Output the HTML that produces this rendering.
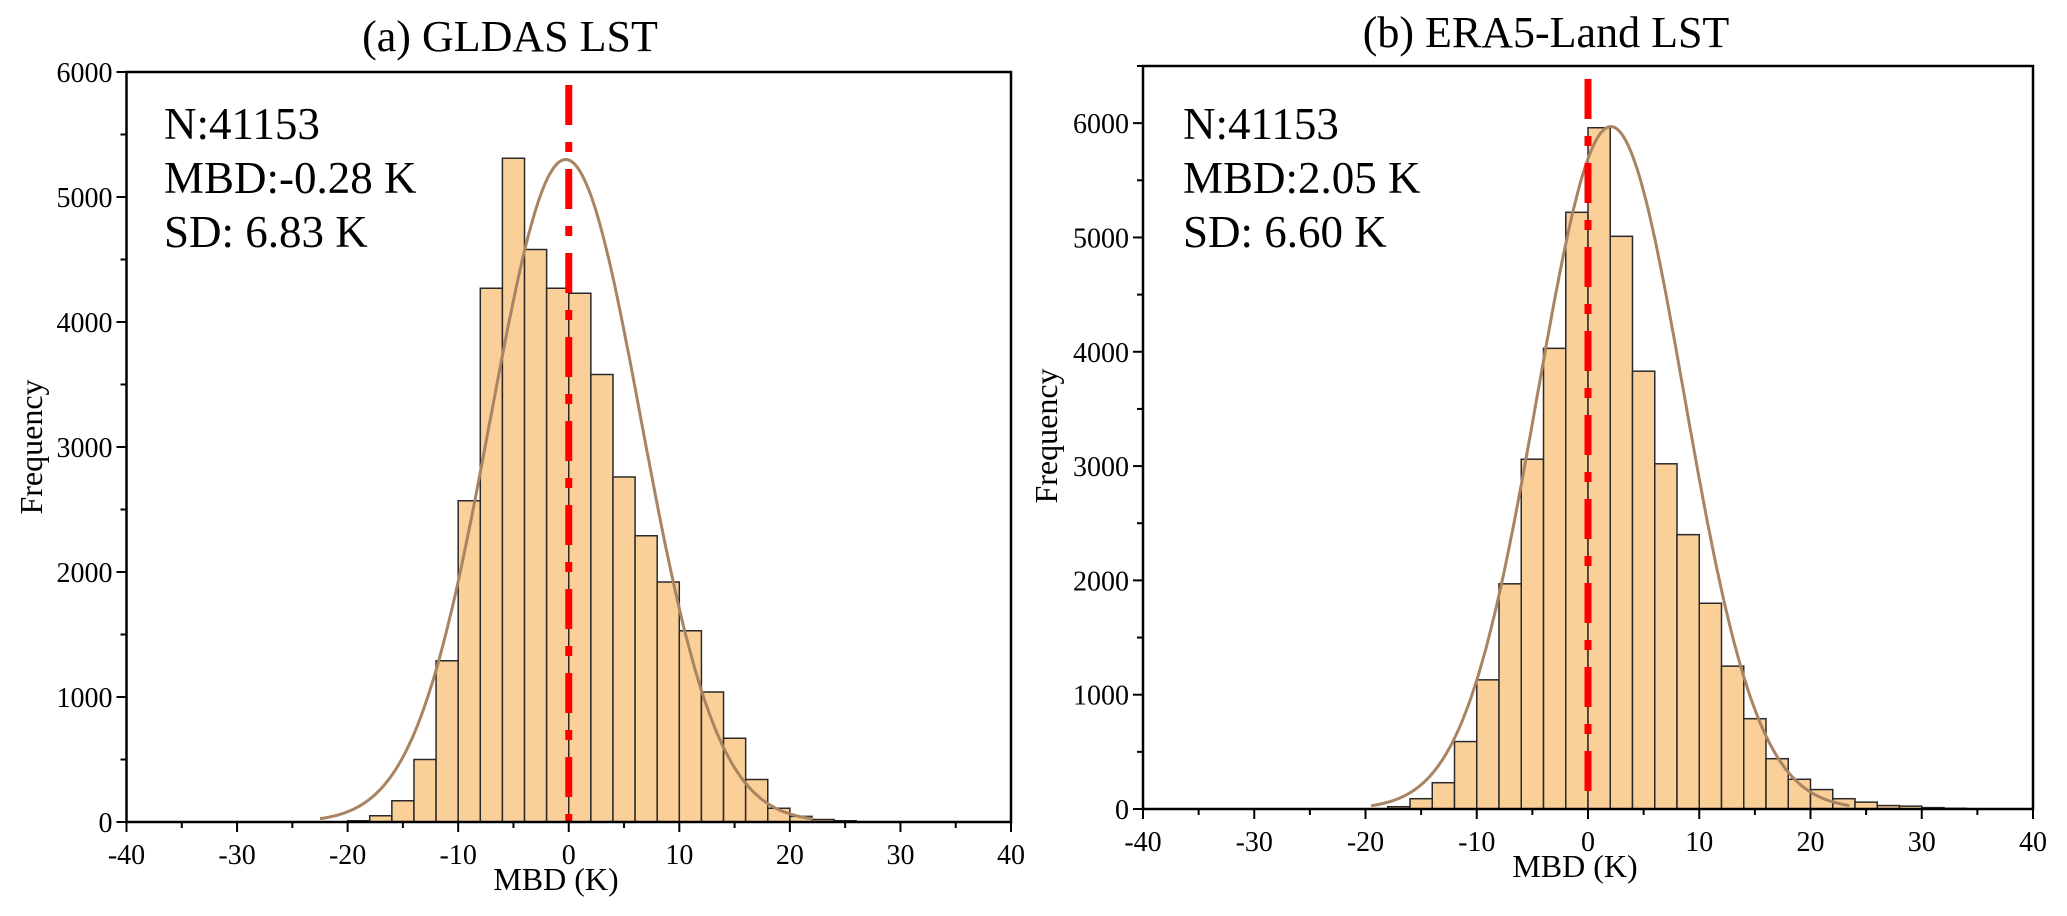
<!DOCTYPE html>
<html><head><meta charset="utf-8"><style>
body{margin:0;background:#fff}
svg text{font-family:"Liberation Serif","Times New Roman",serif;fill:#000}
</style></head><body>
<svg id="chart" width="2067" height="911" viewBox="0 0 2067 911" xmlns="http://www.w3.org/2000/svg"></svg>
<script>
const binEdgesA = [-20,-18,-16,-14,-12,-10,-8,-6,-4,-2,0,2,4,6,8,10,12,14,16,18,20,22,24];
const countsA = [10,50,170,500,1290,2570,4270,5310,4580,4270,4230,3580,2760,2290,1920,1530,1040,670,340,110,45,20,10];
const binEdgesB = [-18,-16,-14,-12,-10,-8,-6,-4,-2,0,2,4,6,8,10,12,14,16,18,20,22,24,26,28,30,32];
const countsB = [20,90,230,590,1130,1970,3060,4030,5220,5960,5010,3830,3020,2400,1800,1250,790,440,260,170,90,60,30,25,12,6];
const xTicks = [-40,-30,-20,-10,0,10,20,30,40];
const yTicksA = [0,1000,2000,3000,4000,5000,6000];
const yTicksB = [0,1000,2000,3000,4000,5000,6000];
const fitA = {mean:-0.28, sd:6.83, peak:5300, from:-22.5, to:22.1};
const fitB = {mean:2.05, sd:6.60, peak:5970, from:-19.5, to:23.5};
const statsA = ["N:41153","MBD:-0.28 K","SD: 6.83 K"];
const statsB = ["N:41153","MBD:2.05 K","SD: 6.60 K"];
const NS="http://www.w3.org/2000/svg";
const svg=document.getElementById('chart');
function mk(tag,attrs,parent){const e=document.createElementNS(NS,tag);for(const k in attrs)e.setAttribute(k,attrs[k]);(parent||svg).appendChild(e);return e;}
function panel(cfg){
  const g=mk('g',{});
  
  
  const X=v=>cfg.x0+(v+40)/80*(cfg.x1-cfg.x0);
  const Y=v=>cfg.yb-v/cfg.ymax*(cfg.yb-cfg.yt);
  cfg.edges.forEach((e,i)=>{
    const r=mk('rect',{x:X(e),y:Y(cfg.counts[i]),width:X(e+2)-X(e),height:Y(0)-Y(cfg.counts[i]),fill:'#FBCF98',stroke:'#2a2a2a','stroke-width':1.5},g);
    
    
  });
  let d='';const f=cfg.fit;
  for(let v=f.from;v<=f.to+1e-9;v+=0.1){const y=f.peak*Math.exp(-Math.pow(v-f.mean,2)/(2*f.sd*f.sd));d+=(d?'L':'M')+X(v).toFixed(1)+','+Y(y).toFixed(1);}
  const c=mk('path',{d:d,fill:'none',stroke:'#A88462','stroke-width':3},g);
  
  
  const rl=mk('line',{x1:X(0),x2:X(0),y1:cfg.yt+13,y2:cfg.yb,stroke:'#FF0000','stroke-width':7,'stroke-dasharray':'40 17 10 17'},g);
  
  
  const fr=mk('rect',{x:cfg.x0,y:cfg.yt,width:cfg.x1-cfg.x0,height:cfg.yb-cfg.yt,fill:'none',stroke:'#000','stroke-width':2.5},g);
  
  
  xTicks.forEach(t=>{
    mk('line',{x1:X(t),x2:X(t),y1:cfg.yb,y2:cfg.yb+10,stroke:'#000','stroke-width':2},g);
    if(t<40)mk('line',{x1:X(t+5),x2:X(t+5),y1:cfg.yb,y2:cfg.yb+6,stroke:'#000','stroke-width':2},g);
    const tx=mk('text',{x:X(t),y:cfg.yb+42,'font-size':28,'text-anchor':'middle'},g);tx.textContent=t;
    
    
  });
  cfg.yticks.forEach(t=>{
    mk('line',{x1:cfg.x0-10,x2:cfg.x0,y1:Y(t),y2:Y(t),stroke:'#000','stroke-width':2},g);
    if(t+500<=cfg.ymax)mk('line',{x1:cfg.x0-6,x2:cfg.x0,y1:Y(t+500),y2:Y(t+500),stroke:'#000','stroke-width':2},g);
    const tx=mk('text',{x:cfg.x0-14,y:Y(t)+10,'font-size':28,'text-anchor':'end'},g);tx.textContent=t;
    
    
  });
  const ti=mk('text',{x:cfg.titleX,y:cfg.titleY,'font-size':44,'text-anchor':'middle'},g);ti.textContent=cfg.title;
  
  
  const xl=mk('text',{x:cfg.xlabX,y:cfg.yb+68,'font-size':32,'text-anchor':'middle'},g);xl.textContent='MBD (K)';
  
  
  const yl=mk('text',{x:0,y:0,'font-size':32,'text-anchor':'middle',transform:`translate(${cfg.ylabX},${cfg.ylabY}) rotate(-90)`},g);yl.textContent='Frequency';
  
  
  cfg.stats.forEach((s,i)=>{
    const st=mk('text',{x:cfg.statX,y:139+54*i,'font-size':45},g);st.textContent=s;
    
    
  });
}
panel({id:'panel-a-gldas',x0:126.5,x1:1011,yt:72,yb:822,ymax:6000,edges:binEdgesA,counts:countsA,fit:fitA,yticks:yTicksA,title:'(a) GLDAS LST',titleX:510,titleY:51,xlabX:556,ylabX:42,ylabY:447,stats:statsA,statX:164});
panel({id:'panel-b-era5',x0:1143,x1:2033,yt:66,yb:809,ymax:6500,edges:binEdgesB,counts:countsB,fit:fitB,yticks:yTicksB,title:'(b) ERA5-Land LST',titleX:1546,titleY:47,xlabX:1575,ylabX:1057,ylabY:436,stats:statsB,statX:1183});
</script>
</body></html>
